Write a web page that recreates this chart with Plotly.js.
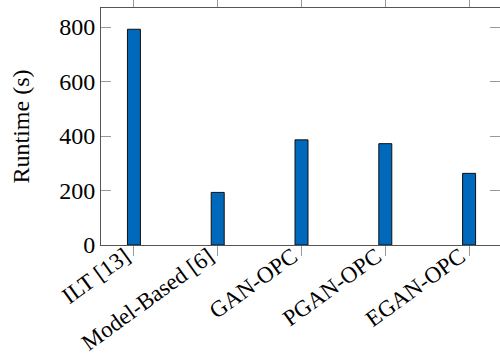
<!DOCTYPE html>
<html>
<head>
<meta charset="utf-8">
<script src="https://cdn.plot.ly/plotly-3.0.1.min.js"></script>
<style>html,body{margin:0;padding:0;background:#fff;overflow:hidden}</style>
</head>
<body>
<div id="chart" style="width:500px;height:364px"></div>
<script>
const categories = ["ILT [13]", "Model-Based [6]", "GAN-OPC", "PGAN-OPC", "EGAN-OPC"];
const runtimes = [792, 193, 386, 372, 263];
const yTicks = [0, 200, 400, 600, 800];

const serif2 = "'Liberation Serif', 'Times New Roman', serif";

const trace = {
  type: "bar",
  x: categories.map((_, i) => i),
  y: runtimes,
  width: 0.155,
  marker: {color: "#0069bb", line: {color: "#111", width: 1}},
  hoverinfo: "skip"
};

const layout = {
  width: 500, height: 364,
  margin: {l: 101, r: 0, t: 8, b: 119},
  paper_bgcolor: "#fff", plot_bgcolor: "#fff",
  showlegend: false,
  font: {family: serif2, size: 22, color: "#000"},
  xaxis: {
    range: [-0.393, 4.369],
    tickmode: "array",
    tickvals: categories.map((_, i) => i),
    ticktext: categories,
    tickangle: -36,
    ticks: "outside", ticklen: 10, tickcolor: "#999", tickwidth: 1,
    ticklabelstandoff: -22,
    ticklabelshift: -9,
    showline: true, linecolor: "#555", linewidth: 1,
    mirror: "ticks",
    showgrid: false, zeroline: false,
    tickfont: {family: serif2, size: 23}
  },
  yaxis: {
    range: [0, 870],
    tickmode: "array",
    tickvals: yTicks,
    ticktext: yTicks.map(String),
    ticks: "inside", ticklen: 10, tickcolor: "#999", tickwidth: 1,
    showline: true, linecolor: "#555", linewidth: 1,
    mirror: "ticks",
    showgrid: false, zeroline: false,
    tickfont: {family: serif2, size: 24},
    title: {text: "Runtime (s)", standoff: 22, font: {family: serif2, size: 24}}
  }
};

Plotly.newPlot("chart", [trace], layout, {staticPlot: true, displayModeBar: false});
</script>
</body>
</html>
